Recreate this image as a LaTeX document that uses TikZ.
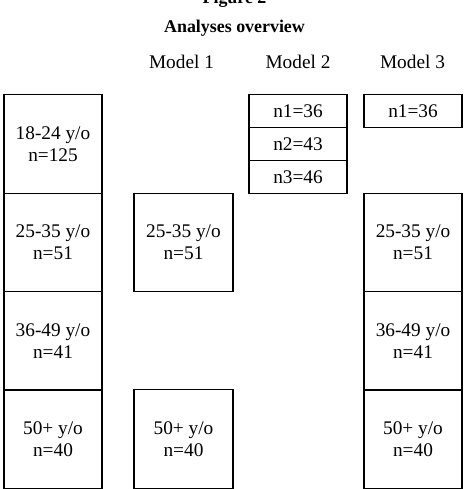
\documentclass[tikz,border=0pt]{standalone}
\usepackage{fontspec}
\setmainfont{Liberation Serif}
\begin{document}
\begin{tikzpicture}[x=1pt,y=-1pt,
  txt/.style={font=\fontsize{19.3}{22}\selectfont},
  ttl/.style={font=\fontsize{17.9}{21}\selectfont\bfseries},
  bigbox/.style={draw,line width=1.2pt,minimum width=98pt,minimum height=98.5pt,inner sep=0pt,align=center,txt},
  smallbox/.style={draw,line width=1.2pt,minimum width=98pt,minimum height=32.8pt,inner sep=0pt,align=center,txt}]
\useasboundingbox (0,0) rectangle (469,489);
\node[ttl,anchor=base] (fig) at (234.5,4) {Figure 2};
\node[ttl,anchor=base] (title) at (234.5,33) {Analyses overview};
\node[txt,anchor=base] (m1) at (181.5,69) {Model 1};
\node[txt,anchor=base] (m2) at (298,69) {Model 2};
\node[txt,anchor=base] (m3) at (412.5,69) {Model 3};
% column 1
\node[bigbox] (a1) at (53,144) {18-24 y/o\\n=125};
\node[bigbox] (a2) at (53,242.5) {25-35 y/o\\n=51};
\node[bigbox] (a3) at (53,341) {36-49 y/o\\n=41};
\node[bigbox] (a4) at (53,439) {50+ y/o\\n=40};
% Model 1
\node[bigbox,minimum width=99pt] (b2) at (183.5,242.5) {25-35 y/o\\n=51};
\node[bigbox,minimum width=99pt] (b4) at (183.5,439) {50+ y/o\\n=40};
% Model 2
\node[smallbox] (c1) at (298,111.2) {n1=36};
\node[smallbox] (c2) at (298,144) {n2=43};
\node[smallbox] (c3) at (298,176.8) {n3=46};
% Model 3
\node[smallbox] (d1) at (413,111.2) {n1=36};
\node[bigbox] (d2) at (413,242.5) {25-35 y/o\\n=51};
\node[bigbox] (d3) at (413,341) {36-49 y/o\\n=41};
\node[bigbox] (d4) at (413,439) {50+ y/o\\n=40};
\end{tikzpicture}
\end{document}
